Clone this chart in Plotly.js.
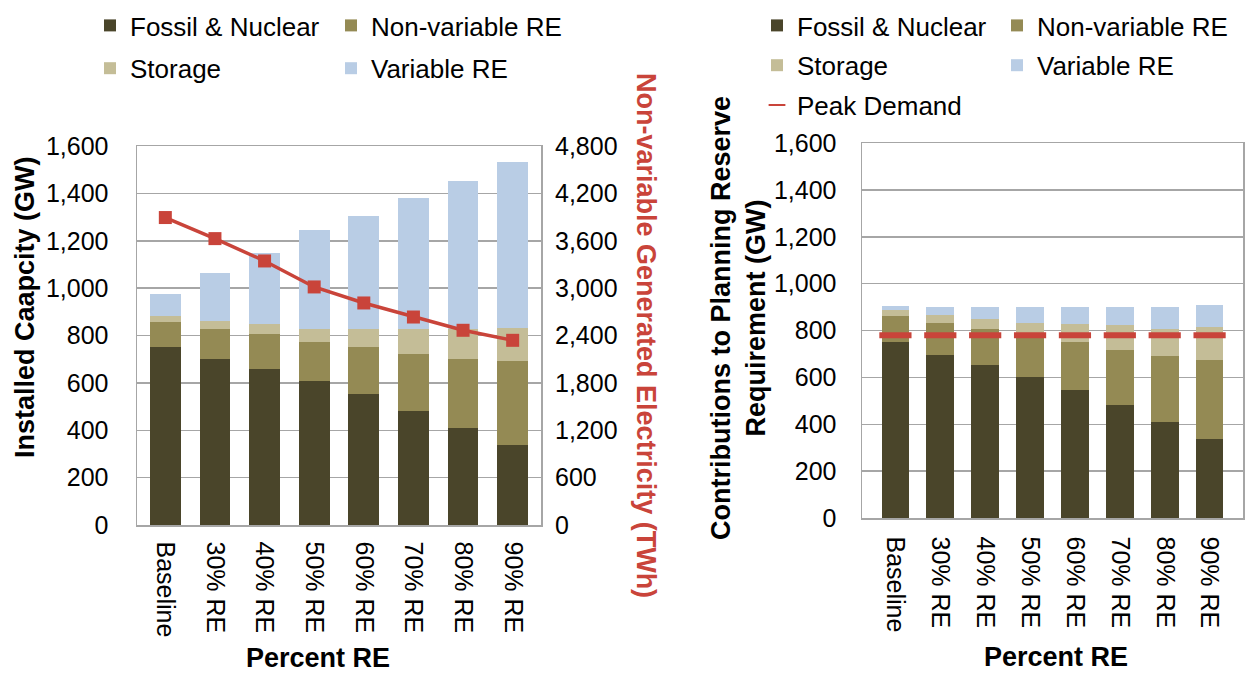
<!DOCTYPE html>
<html>
<head>
<meta charset="utf-8">
<script src="https://cdn.plot.ly/plotly-3.0.1.min.js"></script>
<style>html,body{margin:0;padding:0;background:#fff}#chart{width:1253px;height:675px}</style>
</head>
<body>
<div id="chart"></div>
<script>
// ---------- data ----------
var categories = ['Baseline', '30% RE', '40% RE', '50% RE', '60% RE', '70% RE', '80% RE', '90% RE'];

// Left chart: installed capacity (GW), stacked segments
var capFossil   = [751, 702, 657, 608, 552, 480, 410, 338];
var capNonVar   = [105, 127, 148, 165, 198, 243, 291, 353];
var capStorage  = [26, 32, 45, 55, 78, 105, 127, 142];
var capVariable = [95, 203, 297, 419, 478, 551, 623, 700];
// Left chart: non-variable generated electricity (TWh)
var nonVarGen   = [3894, 3627, 3344, 3015, 2812, 2634, 2466, 2339];

// Right chart: contributions to planning reserve requirement (GW)
var resFossil   = [752, 697, 652, 601, 548, 482, 411, 338];
var resNonVar   = [110, 137, 154, 174, 204, 236, 279, 335];
var resStorage  = [24, 32, 45, 59, 75, 105, 118, 144];
var resVariable = [20, 34, 49, 66, 73, 77, 92, 93];
var peakDemand  = [780, 780, 780, 780, 780, 780, 780, 780];

var gwTicks  = [0, 200, 400, 600, 800, 1000, 1200, 1400, 1600];
var twhTicks = [0, 600, 1200, 1800, 2400, 3000, 3600, 4200, 4800];

// ---------- styling ----------
var W = 1253, H = 675;
function px(x) { return x / W; }
function py(y) { return 1 - y / H; }
var FONT = 'Liberation Sans, Arial, sans-serif';
var C = { fossil: '#4a452a', nonvar: '#948a54', storage: '#c4bd97', variable: '#b9cde5', red: '#c9443a' };
var GRID = '#a6a6a6';

function bar(name, y, color, xa, ya, legend, grp) {
  return { type: 'bar', name: name, x: categories, y: y, xaxis: xa, yaxis: ya,
    marker: { color: color, line: { width: 0 } }, legend: legend, legendgroup: grp,
    hoverinfo: 'y+name' };
}

var traces = [
  bar('Fossil & Nuclear', capFossil, C.fossil, 'x', 'y', 'legend', 'a1'),
  bar('Non-variable RE', capNonVar, C.nonvar, 'x', 'y', 'legend2', 'a2'),
  bar('Storage', capStorage, C.storage, 'x', 'y', 'legend', 'a3'),
  bar('Variable RE', capVariable, C.variable, 'x', 'y', 'legend2', 'a4'),
  { type: 'scatter', mode: 'lines+markers', name: 'Non-variable Generated Electricity',
    x: categories, y: nonVarGen, xaxis: 'x', yaxis: 'y2', showlegend: false,
    line: { color: C.red, width: 3.5 }, marker: { symbol: 'square', size: 13, color: C.red } },
  bar('Fossil & Nuclear', resFossil, C.fossil, 'x2', 'y3', 'legend3', 'b1'),
  bar('Non-variable RE', resNonVar, C.nonvar, 'x2', 'y3', 'legend4', 'b2'),
  bar('Storage', resStorage, C.storage, 'x2', 'y3', 'legend3', 'b3'),
  bar('Variable RE', resVariable, C.variable, 'x2', 'y3', 'legend4', 'b4'),
  { type: 'scatter', mode: 'markers', name: 'Peak Demand', x: categories, y: peakDemand,
    xaxis: 'x2', yaxis: 'y3', legend: 'legend3', legendgroup: 'b5',
    marker: { symbol: 'line-ew', size: 23, color: C.red, line: { color: C.red, width: 6 } } }
];

var tickFont = { family: FONT, size: 25, color: '#000' };
function xAxis(domain, anchor, standoff) {
  return { domain: domain, anchor: anchor, type: 'category', tickangle: 90, tickfont: tickFont,
    showline: true, linecolor: GRID, linewidth: 1.5, mirror: true, ticks: '', showgrid: false,
    ticklabelstandoff: standoff, fixedrange: true };
}
function yAxis(domain, anchor, standoff) {
  return { domain: domain, anchor: anchor, range: [0, 1600], tickvals: gwTicks, tickformat: ',',
    tickfont: tickFont, showline: true, linecolor: GRID, linewidth: 1.5, mirror: true, ticks: '',
    showgrid: true, gridcolor: GRID, gridwidth: 1.5, zeroline: false, ticklabelstandoff: standoff,
    fixedrange: true };
}

var legendBase = { font: { family: FONT, size: 26, color: '#000' }, bgcolor: 'rgba(0,0,0,0)',
  orientation: 'v', xanchor: 'left', yanchor: 'top', traceorder: 'grouped', borderwidth: 0 };
function leg(x, y, gap, extra) {
  var o = Object.assign({}, legendBase, { x: px(x), y: py(y), tracegroupgap: gap });
  return Object.assign(o, extra || {});
}

function ann(text, x, y, angle, color) {
  return { text: '<b>' + text + '</b>', x: px(x), y: py(y), xref: 'paper', yref: 'paper',
    showarrow: false, textangle: angle, xanchor: 'center', yanchor: 'middle',
    font: { family: FONT, size: 27, color: color || '#000' } };
}

var layout = {
  width: W, height: H, margin: { l: 0, r: 0, t: 0, b: 0 },
  paper_bgcolor: '#fff', plot_bgcolor: '#fff', barmode: 'stack', bargap: 0.38,
  font: { family: FONT, color: '#000' },
  xaxis: xAxis([px(137), px(541)], 'y', 10),
  yaxis: yAxis([py(525), py(146)], 'x', 22),
  yaxis2: { overlaying: 'y', side: 'right', anchor: 'x', range: [0, 4800], tickvals: twhTicks,
    tickformat: ',', tickfont: tickFont, showgrid: false, zeroline: false, showline: false,
    ticks: '', ticklabelstandoff: 13, fixedrange: true },
  xaxis2: xAxis([px(862), px(1243)], 'y3', 12),
  yaxis3: yAxis([py(518), py(143)], 'x2', 19),
  legend: leg(90, 2, 6),
  legend2: leg(331, 2, 6),
  legend3: leg(757, 2, 3, { itemsizing: 'constant' }),
  legend4: leg(997, 2, 3),
  annotations: [
    ann('Installed Caapcity (GW)', 25, 307, -90),
    ann('Non-variable Generated Electricity (TWh)', 646, 335, 90, C.red),
    ann('Percent RE', 318, 658, 0),
    ann('Contributions to Planning Reserve<br>Requirement (GW)', 739, 318, -90),
    ann('Percent RE', 1056, 657, 0)
  ],
  showlegend: true
};

Plotly.newPlot('chart', traces, layout, { staticPlot: true, displayModeBar: false });
</script>
</body>
</html>
